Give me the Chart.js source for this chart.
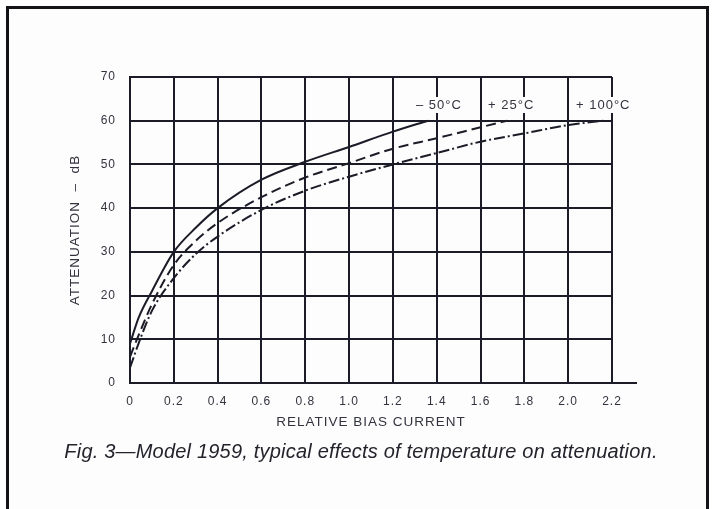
<!DOCTYPE html>
<html>
<head>
<meta charset="utf-8">
<script src="https://cdn.jsdelivr.net/npm/chart.js@4/dist/chart.umd.min.js"></script>
<style>
    html, body { margin: 0; padding: 0; background: #fff; overflow: hidden; }
    #frame {
        position: absolute; left: 6px; top: 6px; width: 697px; height: 520px;
        border: 3px solid #141418; border-bottom: none; background: #fdfdfd;
    }
    #wrap { position: absolute; left: 0; top: 0; width: 713px; height: 509px; }
    #caption {
        position: absolute; left: 0; width: 722px; top: 440px; text-align: center;
        font: italic 20px "Liberation Sans", Arial, sans-serif; color: #23232c;
        letter-spacing: 0.2px;
    }
</style>
</head>
<body>
<div id="frame"></div>
<div id="wrap"><canvas id="chart"></canvas></div>
<div id="caption">Fig. 3—Model 1959, typical effects of temperature on attenuation.</div>
<script>
// Relative bias current vs attenuation (dB)
const coldX = [0, 0.04, 0.1, 0.2, 0.3, 0.4, 0.6, 0.8, 1.0, 1.2, 1.36];
const coldY = [9, 15, 21, 30, 35.5, 40, 46.5, 50.6, 54, 57.5, 60];

const roomX = [0, 0.04, 0.1, 0.2, 0.3, 0.4, 0.6, 0.8, 1.0, 1.2, 1.4, 1.6, 1.72];
const roomY = [6, 11, 18, 27, 32.5, 36.6, 42.5, 47, 50.3, 53.6, 56, 58.5, 60];

const hotX = [0, 0.05, 0.1, 0.2, 0.3, 0.4, 0.6, 0.8, 1.0, 1.2, 1.4, 1.6, 1.8, 2.0, 2.16];
const hotY = [3.5, 10.5, 16.5, 24, 29.5, 33.5, 39.6, 44, 47.2, 50, 52.6, 55.2, 57.1, 59, 60];

const seriesNames = ['\u2013 50\u00b0C', '+ 25\u00b0C', '+ 100\u00b0C'];
const nameAtX = [1.41, 1.74, 2.16];
const nameAtY = 63.6;

const ink = '#1c1c28';
const textInk = '#33333f';

const toPoints = (xs, ys) => xs.map((x, i) => ({ x: x, y: ys[i] }));

// letter spacing for all canvas text + curve labels with white backing
const printPlugin = {
    id: 'print',
    beforeDraw: (chart) => {
        chart.ctx.letterSpacing = '1px';
    },
    afterDraw: (chart) => {
        const ctx = chart.ctx;
        const xs = chart.scales.x;
        const ys = chart.scales.y;
        const area = chart.chartArea;

        ctx.save();
        // baseline runs past the last grid line
        ctx.beginPath();
        ctx.moveTo(area.right, area.bottom);
        ctx.lineTo(area.right + 25, area.bottom);
        ctx.lineWidth = 2;
        ctx.strokeStyle = ink;
        ctx.stroke();

        ctx.font = '13px "Liberation Sans", Arial, sans-serif';
        ctx.letterSpacing = '1px';
        ctx.textAlign = 'center';
        ctx.textBaseline = 'middle';
        seriesNames.forEach((name, i) => {
            const px = xs.getPixelForValue(nameAtX[i]);
            const py = ys.getPixelForValue(nameAtY);
            const w = ctx.measureText(name).width;
            ctx.fillStyle = '#fdfdfd';
            ctx.fillRect(px - w / 2 - 3, py - 8, w + 6, 16);
            ctx.fillStyle = textInk;
            ctx.fillText(name, px, py);
        });
        ctx.restore();
    }
};

const lineStyle = {
    borderColor: ink,
    borderWidth: 2,
    pointRadius: 0,
    fill: false,
    cubicInterpolationMode: 'monotone'
};

new Chart(document.getElementById('chart'), {
    type: 'line',
    data: {
        datasets: [
            { ...lineStyle, label: seriesNames[0], data: toPoints(coldX, coldY) },
            { ...lineStyle, label: seriesNames[1], data: toPoints(roomX, roomY), borderDash: [10, 5] },
            { ...lineStyle, label: seriesNames[2], data: toPoints(hotX, hotY), borderDash: [11, 3, 2, 3] }
        ]
    },
    options: {
        responsive: true,
        maintainAspectRatio: false,
        animation: false,
        layout: { padding: { left: 60, top: 77, right: 101, bottom: 76 } },
        plugins: {
            legend: { display: false },
            tooltip: { enabled: false }
        },
        scales: {
            x: {
                type: 'linear',
                min: 0,
                max: 2.2,
                afterFit: (scale) => { scale.height = 50; },
                ticks: {
                    stepSize: 0.2,
                    color: textInk,
                    padding: 11,
                    maxRotation: 0,
                    font: { size: 12, family: '"Liberation Sans", Arial, sans-serif' },
                    callback: (v) => (v === 0 ? '0' : v.toFixed(1))
                },
                grid: { color: ink, lineWidth: 2, drawTicks: false },
                border: { color: ink, width: 2 },
                title: {
                    display: true,
                    text: 'RELATIVE BIAS CURRENT',
                    color: textInk,
                    padding: { top: 0, bottom: 3 },
                    font: { size: 13.5, family: '"Liberation Sans", Arial, sans-serif' }
                }
            },
            y: {
                min: 0,
                max: 70,
                afterFit: (scale) => { scale.width = 70; },
                ticks: {
                    stepSize: 10,
                    color: textInk,
                    padding: 14,
                    font: { size: 12, family: '"Liberation Sans", Arial, sans-serif' }
                },
                grid: { color: ink, lineWidth: 2, drawTicks: false },
                border: { color: ink, width: 2 },
                title: {
                    display: true,
                    text: 'ATTENUATION  \u2013  dB',
                    color: textInk,
                    padding: { top: 7, bottom: 0 },
                    font: { size: 13.5, family: '"Liberation Sans", Arial, sans-serif' }
                }
            }
        }
    },
    plugins: [printPlugin]
});
</script>
</body>
</html>
